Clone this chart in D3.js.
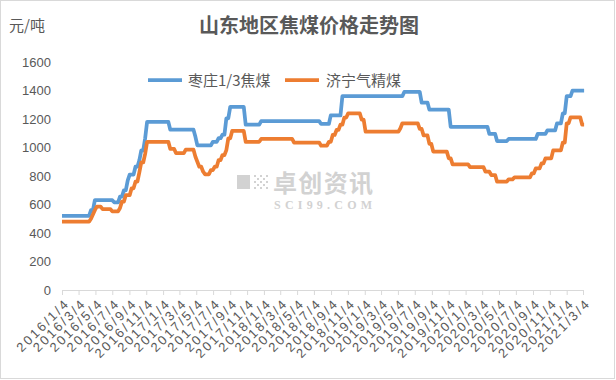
<!DOCTYPE html>
<html><head><meta charset="utf-8">
<script src="https://cdn.jsdelivr.net/npm/d3@7"></script>
<style>html,body{margin:0;padding:0;background:#fff;}svg{display:block;}</style>
</head><body>
<svg id="c" width="616" height="380"></svg>
<script>
// ---- data ----
const startDate = "2016-01-04";           // first weekly observation
const endWeek = 270;                        // last weekly observation (week index)
const seriesNames = ["枣庄1/3焦煤", "济宁气精煤"];
// weekly prices given as change points: week index (from startDate) and new price
const zaozhuangWeeks = [0,15,17,27,30,32,34,35,38,40,41,43,44,56,69,70,78,81,83,85,87,95,103,134,139,145,177,186,190,201,221,225,231,246,251,256,259,261,264];
const zaozhuangValues = [520,560,630,615,655,700,770,810,865,910,980,1065,1180,1125,1075,1015,1040,1065,1090,1205,1285,1160,1185,1165,1225,1360,1390,1315,1265,1145,1095,1045,1060,1095,1120,1170,1240,1360,1400];
const jiningWeeks = [0,15,16,17,18,21,26,30,31,33,36,38,40,41,43,44,56,59,64,69,70,71,73,74,77,79,81,83,85,86,88,95,103,120,134,138,140,142,144,146,148,155,157,175,176,185,187,190,192,200,202,211,219,222,225,231,234,243,245,248,250,254,259,261,263,269];
const jiningValues = [480,500,530,560,585,568,552,575,620,665,714,760,825,895,955,1040,990,960,985,935,900,865,830,812,842,865,912,947,982,1064,1116,1040,1060,1035,1013,1040,1088,1123,1160,1210,1240,1195,1111,1135,1170,1130,1085,1025,971,924,882,862,830,807,760,777,790,819,854,889,924,980,1035,1170,1212,1160];
const xTickLabels = ["2016/1/4","2016/3/4","2016/5/4","2016/7/4","2016/9/4","2016/11/4","2017/1/4","2017/3/4","2017/5/4","2017/7/4","2017/9/4","2017/11/4","2018/1/4","2018/3/4","2018/5/4","2018/7/4","2018/9/4","2018/11/4","2019/1/4","2019/3/4","2019/5/4","2019/7/4","2019/9/4","2019/11/4","2020/1/4","2020/3/4","2020/5/4","2020/7/4","2020/9/4","2020/11/4","2021/1/4","2021/3/4"];
const yTicks = [0,200,400,600,800,1000,1200,1400,1600];
const colors = ["#5B9BD5", "#ED7D31"];

// ---- chart ----
const svg = d3.select("#c");
const W = 616, H = 380;
const parse = d3.timeParse("%Y/%m/%d");
const start = d3.timeParse("%Y-%m-%d")(startDate);
const tickDates = xTickLabels.map(parse);
const plot = {left: 62, right: 583, top: 62, bottom: 290};

svg.append("rect").attr("x",0.5).attr("y",0.5).attr("width",W-2).attr("height",H-2)
  .attr("fill","#fff").attr("stroke","#d9d9d9");

const x = d3.scaleTime().domain([tickDates[0], tickDates[tickDates.length-1]]).range([plot.left, plot.right]);
const y = d3.scaleLinear().domain([0,1600]).range([plot.bottom, plot.top]);

// watermark
const wm = svg.append("g").attr("fill","#d2d2d2");
wm.append("rect").attr("x",237).attr("y",175).attr("width",13).attr("height",14);
const dots = [[0,0],[2,0],[1,1],[0,2],[2,2],[1,3],[3,1],[3,3],[0,4],[2,4],[4,0],[4,2],[4,4]];
dots.forEach(d=>wm.append("rect").attr("x",254+d[0]*3).attr("y",175+d[1]*3).attr("width",2).attr("height",2));
wm.append("text").attr("x",273).attr("y",192).attr("font-family","Noto Sans CJK SC")
  .attr("font-size",24).attr("font-weight","bold").attr("textLength",100).text("卓创资讯");
wm.append("text").attr("x",274).attr("y",209).attr("font-family","Liberation Serif").attr("font-weight","bold")
  .attr("font-size",12).attr("textLength",98).attr("lengthAdjust","spacing").text("SCI99.COM");

// axes
const xAxis = d3.axisBottom(x).tickValues(tickDates).tickSize(5).tickFormat((d,i)=>xTickLabels[i]);
const gx = svg.append("g").attr("transform",`translate(0,${plot.bottom})`).call(xAxis);
gx.select(".domain").attr("stroke","#d9d9d9");
gx.selectAll(".tick line").attr("stroke","#d9d9d9");
gx.selectAll(".tick text").attr("fill","#595959").attr("font-family","Liberation Sans").attr("font-size",13)
  .attr("letter-spacing","2.3px")
  .attr("text-anchor","end").attr("dy",null).attr("y",null)
  .attr("transform","translate(8,14) rotate(-45)");

const yAxis = d3.axisLeft(y).tickValues(yTicks).tickSize(0).tickPadding(11).tickFormat(d3.format("d"));
const gy = svg.append("g").attr("transform",`translate(${plot.left},0)`).call(yAxis);
gy.select(".domain").remove();
gy.selectAll(".tick text").attr("fill","#595959").attr("font-family","Liberation Sans").attr("font-size",13);

// series
function buildPoints(weeks, values){
  const pts = [];
  weeks.forEach((w,i)=>{
    if(i>0 && weeks[i]-1 > weeks[i-1]) pts.push([w-1, values[i-1]]);
    pts.push([w, values[i]]);
  });
  pts.push([endWeek, values[values.length-1]]);
  return pts.map(p=>({date: d3.timeDay.offset(start, p[0]*7), value: p[1]}));
}
const line = d3.line().x(d=>x(d.date)).y(d=>y(d.value)).curve(d3.curveLinear);
[[zaozhuangWeeks,zaozhuangValues],[jiningWeeks,jiningValues]].forEach((s,i)=>{
  svg.append("path").datum(buildPoints(s[0],s[1])).attr("d",line)
    .attr("fill","none").attr("stroke",colors[i]).attr("stroke-width",3.75)
    .attr("stroke-linejoin","round").attr("stroke-linecap","butt");
});

// legend
const legendPos = [{lx:148, tx:188},{lx:285, tx:326}];
seriesNames.forEach((n,i)=>{
  svg.append("line").attr("x1",legendPos[i].lx).attr("x2",legendPos[i].lx+34).attr("y1",80).attr("y2",80)
    .attr("stroke",colors[i]).attr("stroke-width",3.75);
  svg.append("text").attr("x",legendPos[i].tx).attr("y",85.5).attr("fill","#595959")
    .attr("font-family","Noto Sans CJK SC").attr("font-size",15).text(n);
});

// titles
svg.append("text").attr("x",309).attr("y",33).attr("text-anchor","middle").attr("fill","#595959")
  .attr("font-family","Noto Sans CJK SC").attr("font-weight","bold").attr("font-size",20).text("山东地区焦煤价格走势图");
svg.append("text").attr("x",9).attr("y",31).attr("fill","#595959")
  .attr("font-family","Noto Sans CJK SC").attr("font-size",15).text("元/吨");
</script>
</body></html>
